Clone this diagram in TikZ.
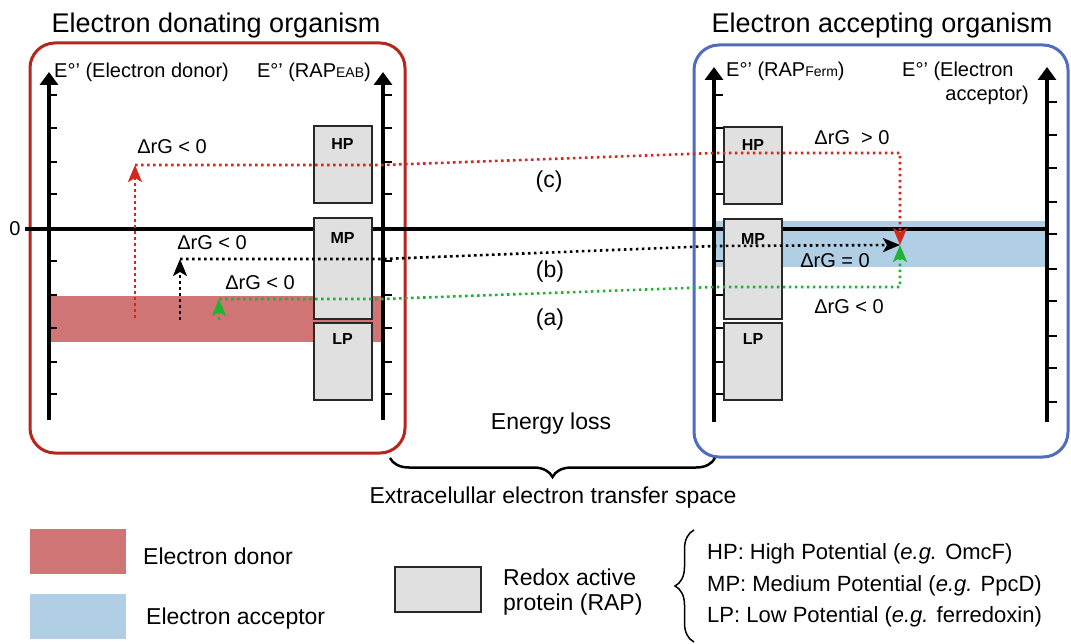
\documentclass[tikz,border=0pt]{standalone}
\usepackage{fontspec}
\setmainfont{Liberation Sans}
\usetikzlibrary{arrows.meta,positioning,decorations.pathreplacing}
\definecolor{donorline}{RGB}{181,38,30}
\definecolor{acceptorline}{RGB}{79,108,190}
\definecolor{donorfill}{RGB}{207,117,117}
\definecolor{acceptorfill}{RGB}{176,206,228}
\definecolor{protfill}{RGB}{224,224,224}
\definecolor{protedge}{RGB}{40,40,40}
\definecolor{redflow}{RGB}{210,40,30}
\definecolor{greenflow}{RGB}{30,180,50}
\newcommand{\pxfont}[1]{\fontsize{#1}{#1}\selectfont}
\begin{document}
\begin{tikzpicture}[x=1pt,y=-1pt,
    every node/.style={inner sep=0pt},
    orgtitle/.style={font=\pxfont{27}},
    txt/.style={font=\pxfont{20}},
    big/.style={font=\pxfont{23}},
    hpline/.style={font=\pxfont{22}},
    organism/.style={line width=3pt, rounded corners=25pt},
    eaxis/.style={line width=3.3pt, -{Triangle[length=13pt,width=18pt]}},
    etick/.style={line width=2pt},
    prot/.style={draw=protedge, fill=protfill, line width=2pt, minimum width=58pt},
    plabel/.style={font=\pxfont{16}\bfseries},
    flow/.style={line width=2.6pt, dash pattern=on 2.6pt off 3.4pt},
    flowtip/.style={-{Stealth[length=17pt,width=14pt,inset=4pt]}}]

\useasboundingbox (0,0) rectangle (1071,644);

% energy bands
\fill[donorfill] (49,296) rectangle (383,342);
\fill[acceptorfill] (715,221) rectangle (1047,267);

% organisms
\draw[organism, draw=donorline] (30,43) rectangle (405,453);
\draw[organism, draw=acceptorline] (694,45) rectangle (1068,457);
\node[orgtitle] (donTitle) at (216,26) {Electron donating organism};
\node[orgtitle] (accTitle) at (882,26) {Electron accepting organism};

% zero line
\coordinate (zL) at (25,229);
\coordinate (zR) at (1047,229);
\draw[line width=3.5pt] (zL) -- (zR);
\node[txt] (zero) at (15,229) {0};

% axes
\coordinate (dA0) at (49,420);   \coordinate (dA1) at (49,72);
\coordinate (dB0) at (383,420);  \coordinate (dB1) at (383,72);
\coordinate (aA0) at (714,422);  \coordinate (aA1) at (714,67);
\coordinate (aB0) at (1047,422); \coordinate (aB1) at (1047,67);
\draw[eaxis] (dA0) -- (dA1);
\draw[eaxis] (dB0) -- (dB1);
\draw[eaxis] (aA0) -- (aA1);
\draw[eaxis] (aB0) -- (aB1);
\foreach \y in {95,128,162,194,261,295,328,362,394}{
  \draw[etick] (49,\y) -- ++(8,0);
  \draw[etick] (383,\y) -- ++(9,0);
  \draw[etick] (714,\y) -- ++(9,0);
}
\foreach \y in {102,135,168,202,234,269,301,336,368,402}
  \draw[etick] (1047,\y) -- ++(10,0);

\node[txt, anchor=west] (eDonor) at (54,72) {E°’ (Electron donor)};
\node[txt, anchor=east] (eRapD) at (371,72) {E°’ (RAP{\pxfont{14}EAB})};
\node[txt, anchor=west] (eRapF) at (726,71) {E°’ (RAP{\pxfont{14}Ferm})};
\node[txt, anchor=west] (eAccA) at (902,71) {E°’ (Electron};
\node[txt, anchor=east] (eAccB) at (1029,95) {acceptor)};

% redox active proteins
\node[prot, minimum height=77pt] (hpD) at (342.5,164.5) {};
\node[prot, minimum height=101pt] (mpD) at (342.5,268.5) {};
\node[prot, minimum height=77pt] (lpD) at (342.5,361.5) {};
\node[prot, minimum height=77pt] (hpA) at (753,165.5) {};
\node[prot, minimum height=100pt] (mpA) at (753,269) {};
\node[prot, minimum height=77pt] (lpA) at (753,361.5) {};
\node[plabel, below=13pt of hpD.north] (hpDt) {HP};
\node[plabel, below=15pt of mpD.north] (mpDt) {MP};
\node[plabel, below=11pt of lpD.north] (lpDt) {LP};
\node[plabel, below=13pt of hpA.north] (hpAt) {HP};
\node[plabel, below=15pt of mpA.north] (mpAt) {MP};
\node[plabel, below=11pt of lpA.north] (lpAt) {LP};

% transfer paths
\coordinate (meet) at (900,245);
\coordinate (c0) at (135,318); \coordinate (c1) at (135,165);
\coordinate (c2) at (383,165); \coordinate (c3) at (715,153);
\coordinate (c4) at (900,153);
\coordinate (b0) at (180,320); \coordinate (b1) at (180,259);
\coordinate (b2) at (383,259); \coordinate (b3) at (715,246);
\coordinate (a0) at (219,320); \coordinate (a1) at (219,299);
\coordinate (a2) at (383,299); \coordinate (a3) at (715,287);
\coordinate (a4) at (900,287);
\draw[flow, flowtip, draw=redflow] (c0) -- (c1);
\draw[flow, flowtip, draw=redflow] (c1) -- (c2) -- (c3) -- (c4) -- (meet);
\draw[flow, flowtip] (b0) -- (b1);
\draw[flow, flowtip] (b1) -- (b2) -- (b3) -- (meet);
\draw[flow, flowtip, draw=greenflow] (a0) -- (a1);
\draw[flow, flowtip, draw=greenflow] (a1) -- (a2) -- (a3) -- (a4) -- (meet);

\node[txt] (gC) at (172,147) {ΔrG < 0};
\node[big] (lblC) at (549,182) {(c)};
\node[txt] (gCa) at (852,138) {ΔrG \ > 0};
\node[txt] (gB) at (212,243) {ΔrG < 0};
\node[big] (lblB) at (550,272) {(b)};
\node[txt] (gA) at (260,283) {ΔrG < 0};
\node[big] (lblA) at (550,320) {(a)};
\node[txt] (gBa) at (835,261) {ΔrG = 0};
\node[txt] (gAa) at (849,307) {ΔrG < 0};

% extracellular space
\node[big] (loss) at (551,424) {Energy loss};
\coordinate (brL) at (390,458);
\coordinate (brR) at (715,458);
\draw[line width=2.5pt, decorate, decoration={brace, mirror, amplitude=19pt}] (brL) -- (brR);
\node[big] (space) at (553,498) {Extracelullar electron transfer space};

% legend
\fill[donorfill] (30,529) rectangle (126,574);
\fill[acceptorfill] (30,594) rectangle (126,639);
\node[big, anchor=west] (lgDonor) at (143,556) {Electron donor};
\node[big, anchor=west] (lgAcc) at (146,619) {Electron acceptor};
\node[prot, line width=1.5pt, minimum width=86pt, minimum height=45pt] (lgProt) at (438,589.5) {};
\node[big, anchor=base west] (lgRapA) at (503,585) {Redox active};
\node[big, anchor=base west] (lgRapB) at (503,610) {protein (RAP)};
\coordinate (lbB) at (694,642);
\coordinate (lbT) at (694,530);
\draw[line width=1.5pt, decorate, decoration={brace, amplitude=19pt}] (lbB) -- (lbT);
\node[hpline, anchor=west] (lgHP) at (707,554) {HP: High Potential (\textit{e.g.} OmcF)};
\node[hpline, anchor=west] (lgMP) at (707,586) {MP: Medium Potential (\textit{e.g.} PpcD)};
\node[hpline, anchor=west] (lgLP) at (707,617) {LP: Low Potential (\textit{e.g.} ferredoxin)};
\end{tikzpicture}
\end{document}
